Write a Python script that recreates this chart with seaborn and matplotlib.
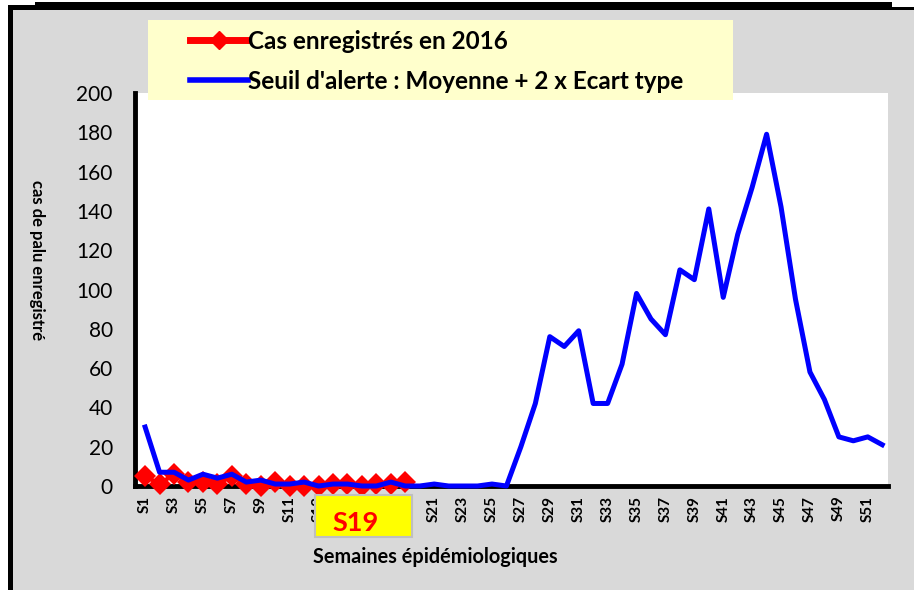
import numpy as np
import pandas as pd
import matplotlib
matplotlib.use("Agg")
import matplotlib.pyplot as plt
from matplotlib.patches import Rectangle
from matplotlib.lines import Line2D
import seaborn as sns

# weekly data
weeks = [f"S{i}" for i in range(1, 53)]
cas_2016 = [5, 1, 6, 2, 2, 1, 5, 1, 0, 2, 0, 0, 0, 1, 1, 0, 1, 1, 2]
seuil = [30, 7, 7, 3, 6, 4, 6, 2, 3, 1, 1, 2, 0, 1, 1, 0, 0, 2, 0, 0,
         1, 0, 0, 0, 1, 0, 20, 42, 76, 71, 79, 42, 42, 62, 98, 85, 77, 110, 105, 141,
         96, 128, 152, 179, 142, 95, 58, 44, 25, 23, 25, 21]
semaine_courante = "S19"

df_seuil = pd.DataFrame({"idx": np.arange(len(weeks)), "val": seuil})
df_cas = pd.DataFrame({"idx": np.arange(len(cas_2016)), "val": cas_2016})

plt.rcParams['font.family'] = ['Lato', 'DejaVu Sans']

fig = plt.figure(figsize=(9.14, 5.90), dpi=100)
fig.patch.set_facecolor("white")
W, H = 914, 590

def px(x, y, w, h):
    return (x / W, 1 - (y + h) / H, w / W, h / H)

def add_rect(x, y, w, h, **kw):
    a, b, c, d = px(x, y, w, h)
    fig.patches.append(Rectangle((a, b), c, d, transform=fig.transFigure, **kw))

# gray chart area with black border on left/top
add_rect(13, 10, 901, 580, facecolor="#d9d9d9", edgecolor="none", zorder=0)
add_rect(8, 5, 5, 585, facecolor="black", edgecolor="none", zorder=1)
add_rect(8, 5, 27, 5, facecolor="black", edgecolor="none", zorder=1)
add_rect(35, 2, 857, 8, facecolor="black", edgecolor="none", zorder=1)
add_rect(892, 7, 22, 3, facecolor="black", edgecolor="none", zorder=1)

ax = fig.add_axes([135 / W, 1 - 486 / H, (888 - 135) / W, (486 - 93) / H])
ax.set_zorder(2)
ax.set_facecolor("white")

sns.lineplot(data=df_cas, x="idx", y="val", ax=ax, color="#ff0000", linewidth=3,
             marker="D", markersize=11, markeredgewidth=0, zorder=3, clip_on=False)
sns.lineplot(data=df_seuil, x="idx", y="val", ax=ax, color="#0000ff", linewidth=3.6,
             zorder=4, clip_on=False)

ax.set_xlim(-0.7, 51.4)
ax.set_ylim(0, 200)
ax.set_yticks(range(0, 201, 20))
ax.set_xticks(range(0, 52, 2))
ax.set_xticklabels(weeks[::2], rotation=90, fontsize=11, fontweight="bold")
ax.tick_params(axis="y", labelsize=15, length=0, pad=16)
ax.tick_params(axis="x", length=0, pad=7)
for s in ["top", "right"]:
    ax.spines[s].set_visible(False)
for s in ["left", "bottom"]:
    ax.spines[s].set_linewidth(3.5)
    ax.spines[s].set_color("black")
ax.set_xlabel("")
ax.set_ylabel("")

fig.text(313 / W, 1 - 557 / H, "Semaines épidémiologiques", fontsize=14.3,
         fontweight="bold", va="center", ha="left")
fig.text(37 / W, 1 - 260 / H, "cas de palu enregistré", fontsize=12,
         fontweight="bold", rotation=270, va="center", ha="center")

# current week box
add_rect(315, 495, 97, 42, facecolor="#ffff00", edgecolor="#bfbfbf", linewidth=1.5, zorder=5)
fig.text(356 / W, 1 - 523 / H, semaine_courante, fontsize=19.5, fontweight="bold",
         color="#ff0000", ha="center", va="center", zorder=6)

# legend
add_rect(148, 20, 585, 80, facecolor="#ffffcc", edgecolor="none", zorder=5)
handles = [Line2D([], [], color="#ff0000", linewidth=5, marker="D", markersize=9),
           Line2D([], [], color="#0000ff", linewidth=4)]
leg = fig.legend(handles, ["Cas enregistrés en 2016", "Seuil d'alerte : Moyenne + 2 x Ecart type"],
                 loc="upper left", bbox_to_anchor=(168 / W, 1 - 8 / H), frameon=False,
                 prop={"weight": "bold", "size": 17.5}, handlelength=2.4, handletextpad=0.0,
                 labelspacing=0.7)
leg.set_zorder(6)

fig.savefig("out.png", dpi=100, facecolor=fig.get_facecolor())
